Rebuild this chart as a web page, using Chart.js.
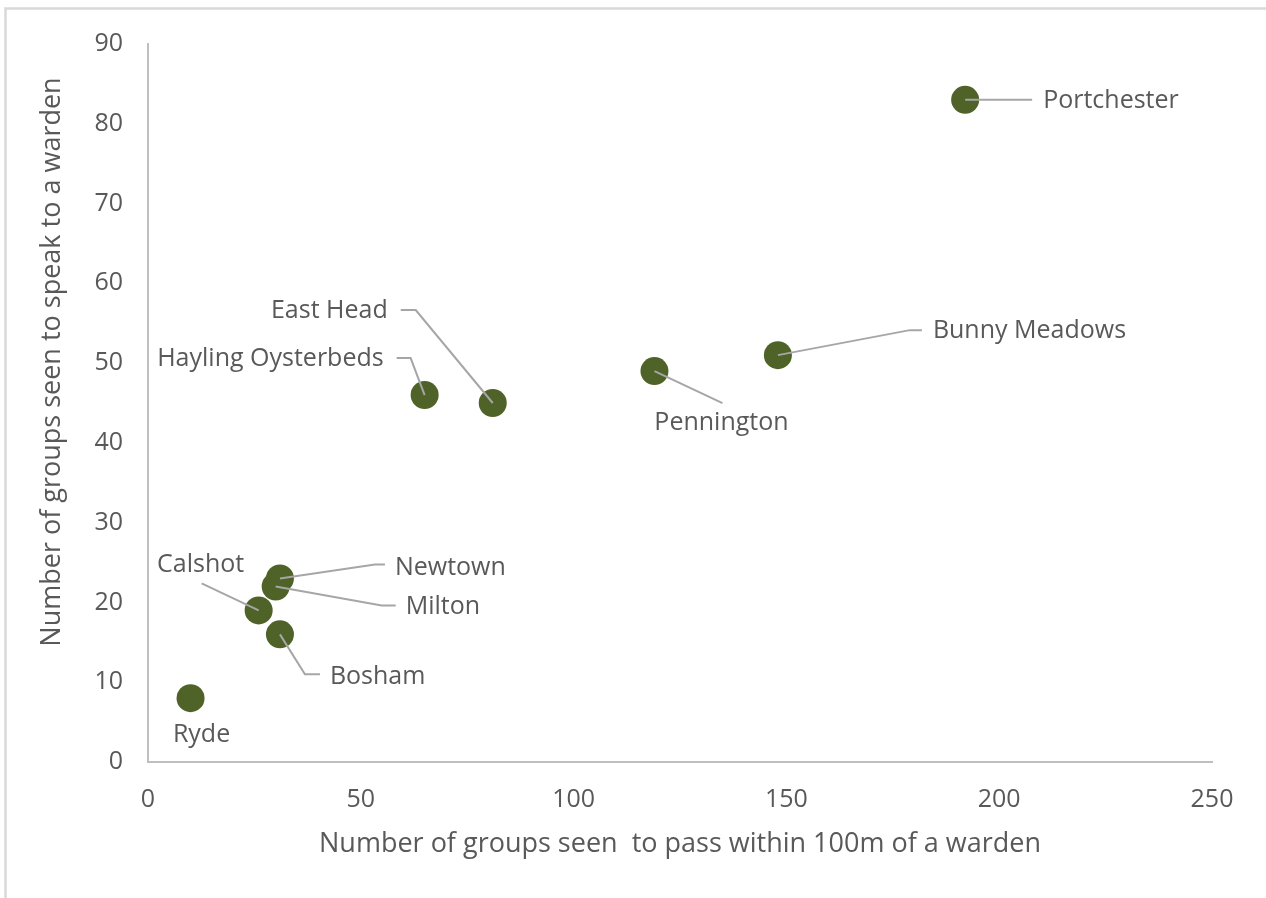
<!DOCTYPE html>
<html>
<head>
<meta charset="utf-8">
<title>Warden encounters</title>
<script src="https://cdn.jsdelivr.net/npm/chart.js@4.4.1/dist/chart.umd.min.js"></script>
<style>
	body { margin: 0; background: #fff; }
	#wrap { width: 1266px; height: 898px; }
</style>
</head>
<body>
<div id="wrap"><canvas id="scatterChart" width="1266" height="898"></canvas></div>
<script>
var siteNames = ["Portchester", "Bunny Meadows", "Pennington", "East Head", "Hayling Oysterbeds",
	"Newtown", "Milton", "Calshot", "Bosham", "Ryde"];
var groupsPassing = [192, 148, 119, 81, 65, 31, 30, 26, 31, 10];
var groupsSpeaking = [83, 51, 49, 45, 46, 23, 22, 19, 16, 8];
var xTicks = [0, 50, 100, 150, 200, 250];
var yTicks = [0, 10, 20, 30, 40, 50, 60, 70, 80, 90];
var xTitle = "Number of groups seen  to pass within 100m of a warden";
var yTitle = "Number of groups seen to speak to a warden";

// label placement, pixel offsets from each marker (leader line points, text anchor, alignment)
var labelLayout = [
	{ line: [[0, 0], [67, 0]], text: [78, 1], align: "left" },
	{ line: [[0, 0], [132, -25], [144, -25]], text: [155, -24], align: "left" },
	{ line: [[0, 0], [68, 32]], text: [67, 52], align: "center" },
	{ line: [[0, 0], [-77, -93], [-92, -93]], text: [-105, -92], align: "right" },
	{ line: [[0, 0], [-14, -37], [-28, -37]], text: [-41, -36], align: "right" },
	{ line: [[0, 0], [95, -14], [105, -14]], text: [115, -11], align: "left" },
	{ line: [[0, 0], [106, 19], [120, 19]], text: [130, 20], align: "left" },
	{ line: [[0, 0], [-57, -27]], text: [-58, -46], align: "center" },
	{ line: [[0, 0], [25, 40], [40, 40]], text: [50, 43], align: "left" },
	{ line: [], text: [11, 37], align: "center" }
];

var fontFamily = "'Open Sans', 'Noto Sans', sans-serif";
var textColor = "#595959";

var points = [];
for (var i = 0; i < siteNames.length; i++) {
	points.push({ x: groupsPassing[i], y: groupsSpeaking[i] });
}

var framePlugin = {
	id: "frame",
	beforeDraw: function (chart) {
		var ctx = chart.ctx;
		ctx.save();
		ctx.fillStyle = "#fff";
		ctx.fillRect(0, 0, chart.width, chart.height);
		ctx.strokeStyle = "#d9d9d9";
		ctx.lineWidth = 2.5;
		ctx.strokeRect(5.5, 8.5, 1400, 1000);
		// y axis title sits a little above the plot centre, as in the original
		ctx.translate(52, 362);
		ctx.rotate(-Math.PI / 2);
		ctx.font = "27px " + fontFamily;
		ctx.fillStyle = textColor;
		ctx.textAlign = "center";
		ctx.textBaseline = "middle";
		ctx.fillText(yTitle, 0, 0);
		ctx.restore();
	}
};

var siteLabelPlugin = {
	id: "siteLabels",
	afterDatasetsDraw: function (chart) {
		var ctx = chart.ctx;
		var meta = chart.getDatasetMeta(0);
		ctx.save();
		ctx.strokeStyle = "#a6a6a6";
		ctx.lineWidth = 2;
		ctx.font = "25px " + fontFamily;
		ctx.fillStyle = textColor;
		ctx.textBaseline = "middle";
		meta.data.forEach(function (pt, idx) {
			var lay = labelLayout[idx];
			if (lay.line.length > 1) {
				ctx.beginPath();
				lay.line.forEach(function (p, j) {
					if (j == 0) ctx.moveTo(pt.x + p[0], pt.y + p[1]);
					else ctx.lineTo(pt.x + p[0], pt.y + p[1]);
				});
				ctx.stroke();
			}
			ctx.textAlign = lay.align;
			ctx.fillText(siteNames[idx], pt.x + lay.text[0], pt.y + lay.text[1]);
		});
		ctx.restore();
	}
};

var ctx = document.getElementById("scatterChart").getContext("2d");
new Chart(ctx, {
	type: "scatter",
	data: {
		datasets: [{
			label: "Sites",
			data: points,
			backgroundColor: "#4f6228",
			borderColor: "#4f6228",
			borderWidth: 0,
			pointRadius: 14,
			pointHoverRadius: 14
		}]
	},
	options: {
		responsive: false,
		animation: false,
		events: [],
		layout: { padding: { left: 0, top: 44, right: 54, bottom: 0 } },
		plugins: {
			legend: { display: false },
			tooltip: { enabled: false }
		},
		scales: {
			x: {
				type: "linear",
				min: xTicks[0],
				max: xTicks[xTicks.length - 1],
				afterFit: function (scale) { scale.height = 136; },
				afterBuildTicks: function (scale) {
					scale.ticks = xTicks.map(function (v) { return { value: v }; });
				},
				grid: { display: false, drawTicks: false },
				border: { display: true, color: "#bfbfbf", width: 2 },
				ticks: {
					padding: 23,
					color: textColor,
					font: { family: fontFamily, size: 25 }
				},
				title: {
					display: true,
					text: xTitle,
					color: textColor,
					font: { family: fontFamily, size: 27 },
					padding: { top: 0, bottom: 37 }
				}
			},
			y: {
				type: "linear",
				min: yTicks[0],
				max: yTicks[yTicks.length - 1],
				afterFit: function (scale) { scale.width = 148; },
				afterBuildTicks: function (scale) {
					scale.ticks = yTicks.map(function (v) { return { value: v }; });
				},
				grid: { display: false, drawTicks: false },
				border: { display: true, color: "#bfbfbf", width: 2 },
				ticks: {
					padding: 25,
					color: textColor,
					font: { family: fontFamily, size: 25 }
				},
				title: { display: false }
			}
		}
	},
	plugins: [framePlugin, siteLabelPlugin]
});
</script>
</body>
</html>
